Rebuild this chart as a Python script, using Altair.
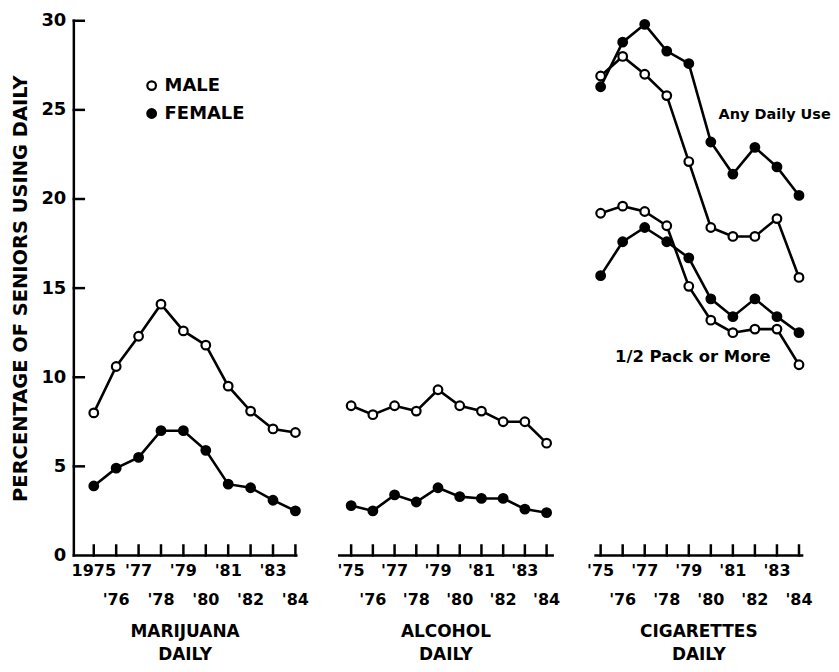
import altair as alt
import pandas as pd

# ---------------- data ----------------
years = list(range(1975, 1985))
year_labels_first = ["1975", "'76", "'77", "'78", "'79", "'80", "'81", "'82", "'83", "'84"]
year_labels_other = ["'75", "'76", "'77", "'78", "'79", "'80", "'81", "'82", "'83", "'84"]
y_ticks = [0, 5, 10, 15, 20, 25, 30]
sexes = ["MALE", "FEMALE"]
panel_title_top = ["MARIJUANA", "ALCOHOL", "CIGARETTES"]
panel_title_bottom = ["DAILY", "DAILY", "DAILY"]
y_title = "PERCENTAGE OF SENIORS USING DAILY"

mj_male = [8.0, 10.6, 12.3, 14.1, 12.6, 11.8, 9.5, 8.1, 7.1, 6.9]
mj_female = [3.9, 4.9, 5.5, 7.0, 7.0, 5.9, 4.0, 3.8, 3.1, 2.5]
al_male = [8.4, 7.9, 8.4, 8.1, 9.3, 8.4, 8.1, 7.5, 7.5, 6.3]
al_female = [2.8, 2.5, 3.4, 3.0, 3.8, 3.3, 3.2, 3.2, 2.6, 2.4]
cig_any_male = [26.9, 28.0, 27.0, 25.8, 22.1, 18.4, 17.9, 17.9, 18.9, 15.6]
cig_any_female = [26.3, 28.8, 29.8, 28.3, 27.6, 23.2, 21.4, 22.9, 21.8, 20.2]
cig_half_male = [19.2, 19.6, 19.3, 18.5, 15.1, 13.2, 12.5, 12.7, 12.7, 10.7]
cig_half_female = [15.7, 17.6, 18.4, 17.6, 16.7, 14.4, 13.4, 14.4, 13.4, 12.5]

ann_labels = ["Any Daily Use", "1/2 Pack or More"]
ann_year = [1980.35, 1975.65]
ann_value = [24.7, 11.15]

# ---------------- helpers ----------------
FONT = "DejaVu Sans"
H = 536
Y_MAX = 30
TICK_PX = 10


def series_df(parts):
    rows = []
    for series, sex, vals in parts:
        for yr, v in zip(years, vals):
            rows.append({"year": yr, "value": v, "sex": sex, "series": series})
    return pd.DataFrame(rows)


def panel(df, width, domain, idx, labels, first=False, ann=None):
    year_df = pd.DataFrame({"year": years, "label": labels,
                            "row": [i % 2 for i in range(len(years))]})
    xs = alt.Scale(domain=domain, nice=False, zero=False)
    x = alt.X("year:Q", scale=xs, axis=None)
    if first:
        yaxis = alt.Axis(values=y_ticks, ticks=False, domain=False, grid=False,
                         labelFont=FONT, labelFontWeight="bold",
                         labelFontSize=18, labelColor="black", labelPadding=8,
                         title=y_title, titleFont=FONT, titleFontSize=19.5,
                         titleFontWeight="bold", titleColor="black", titlePadding=10)
    else:
        yaxis = None
    y = alt.Y("value:Q", scale=alt.Scale(domain=[0, Y_MAX], nice=False), axis=yaxis)

    # axis frame pieces as line marks in data space (the scale maps them)
    y_per_px = Y_MAX / H
    x_per_px = (domain[1] - domain[0]) / width
    frame_rows = [{"year": domain[0], "value": 0, "g": "xa"},
                  {"year": domain[1], "value": 0, "g": "xa"}]
    for yr in years:
        frame_rows += [{"year": yr, "value": 0, "g": f"t{yr}"},
                       {"year": yr, "value": TICK_PX * y_per_px, "g": f"t{yr}"}]
    if first:
        frame_rows += [{"year": domain[0], "value": 0, "g": "ya"},
                       {"year": domain[0], "value": Y_MAX, "g": "ya"}]
        for v in y_ticks[1:]:
            frame_rows += [{"year": domain[0], "value": v, "g": f"y{v}"},
                           {"year": domain[0] + TICK_PX * x_per_px, "value": v, "g": f"y{v}"}]
    frame = alt.Chart(pd.DataFrame(frame_rows)).mark_line(
        color="black", strokeWidth=2.5, strokeCap="square").encode(
        x=x, y=y, detail="g:N")

    lines = alt.Chart(df).mark_line(color="black", strokeWidth=2.6).encode(
        x=x, y=y, detail="series:N")
    pts = alt.Chart(df).mark_point(shape="circle", filled=True, size=75, stroke="black",
                                   strokeWidth=2.2, opacity=1).encode(
        x=x, y=y,
        fill=alt.Fill("sex:N", scale=alt.Scale(domain=sexes, range=["white", "black"]),
                      legend=None))
    lab_kw = dict(font=FONT, fontWeight="bold", fontSize=16, color="black",
                  align="center", baseline="middle")
    lab0 = alt.Chart(year_df).transform_filter("datum.row == 0").mark_text(**lab_kw).encode(
        x=x, y=alt.value(H + 16), text="label:N")
    lab1 = alt.Chart(year_df).transform_filter("datum.row == 1").mark_text(**lab_kw).encode(
        x=x, y=alt.value(H + 45), text="label:N")
    tt_kw = dict(font=FONT, fontWeight="bold", fontSize=17, color="black",
                 align="center", baseline="middle")
    t1 = alt.Chart(pd.DataFrame({"t": [panel_title_top[idx]]})).mark_text(**tt_kw).encode(
        x=alt.value(width / 2), y=alt.value(H + 77), text="t:N")
    t2 = alt.Chart(pd.DataFrame({"t": [panel_title_bottom[idx]]})).mark_text(**tt_kw).encode(
        x=alt.value(width / 2), y=alt.value(H + 100), text="t:N")

    layers = [frame, lines, pts, lab0, lab1, t1, t2]

    if first:
        leg_kw = dict(font=FONT, fontWeight="bold", fontSize=18, color="black",
                      align="left", baseline="middle")
        for i, (sx, fillc) in enumerate(zip(sexes, ["white", "black"])):
            ldf = pd.DataFrame({"label": [sx]})
            ypos = 65 + 28 * i
            layers.append(alt.Chart(ldf).mark_point(shape="circle", filled=True, size=75,
                                                    stroke="black", strokeWidth=2.2,
                                                    fill=fillc, opacity=1).encode(
                x=alt.value(78), y=alt.value(ypos)))
            layers.append(alt.Chart(ldf).mark_text(**leg_kw).encode(
                x=alt.value(91), y=alt.value(ypos), text="label:N"))

    if ann is not None:
        for j in range(len(ann)):
            layers.append(alt.Chart(ann.iloc[[j]]).mark_text(
                font=FONT, fontWeight="bold", fontSize=[14.5, 16.5][j],
                color="black", align="left", baseline="middle").encode(
                x=x, y=y, text="label:N"))

    return alt.layer(*layers).properties(width=width, height=H)


mj_df = series_df([("m", "MALE", mj_male), ("f", "FEMALE", mj_female)])
al_df = series_df([("m", "MALE", al_male), ("f", "FEMALE", al_female)])
cg_df = series_df([("am", "MALE", cig_any_male), ("af", "FEMALE", cig_any_female),
                   ("hm", "MALE", cig_half_male), ("hf", "FEMALE", cig_half_female)])
ann_df = pd.DataFrame({"label": ann_labels, "year": ann_year, "value": ann_value})

p1 = panel(mj_df, 223, [1974.11, 1984.04], 0, year_labels_first, first=True)
p2 = panel(al_df, 214, [1974.45, 1984.28], 1, year_labels_other)
p3 = panel(cg_df, 207, [1974.77, 1984.14], 2, year_labels_other, ann=ann_df)

chart = alt.hconcat(p1, p2, p3, spacing=43, bounds="flush").properties(
    padding={"left": 2, "top": 3, "right": 0, "bottom": 0},
    background="white",
).configure_view(strokeWidth=0, stroke="transparent")

chart.save("out.html", embed_options={"renderer": "svg", "actions": False})
